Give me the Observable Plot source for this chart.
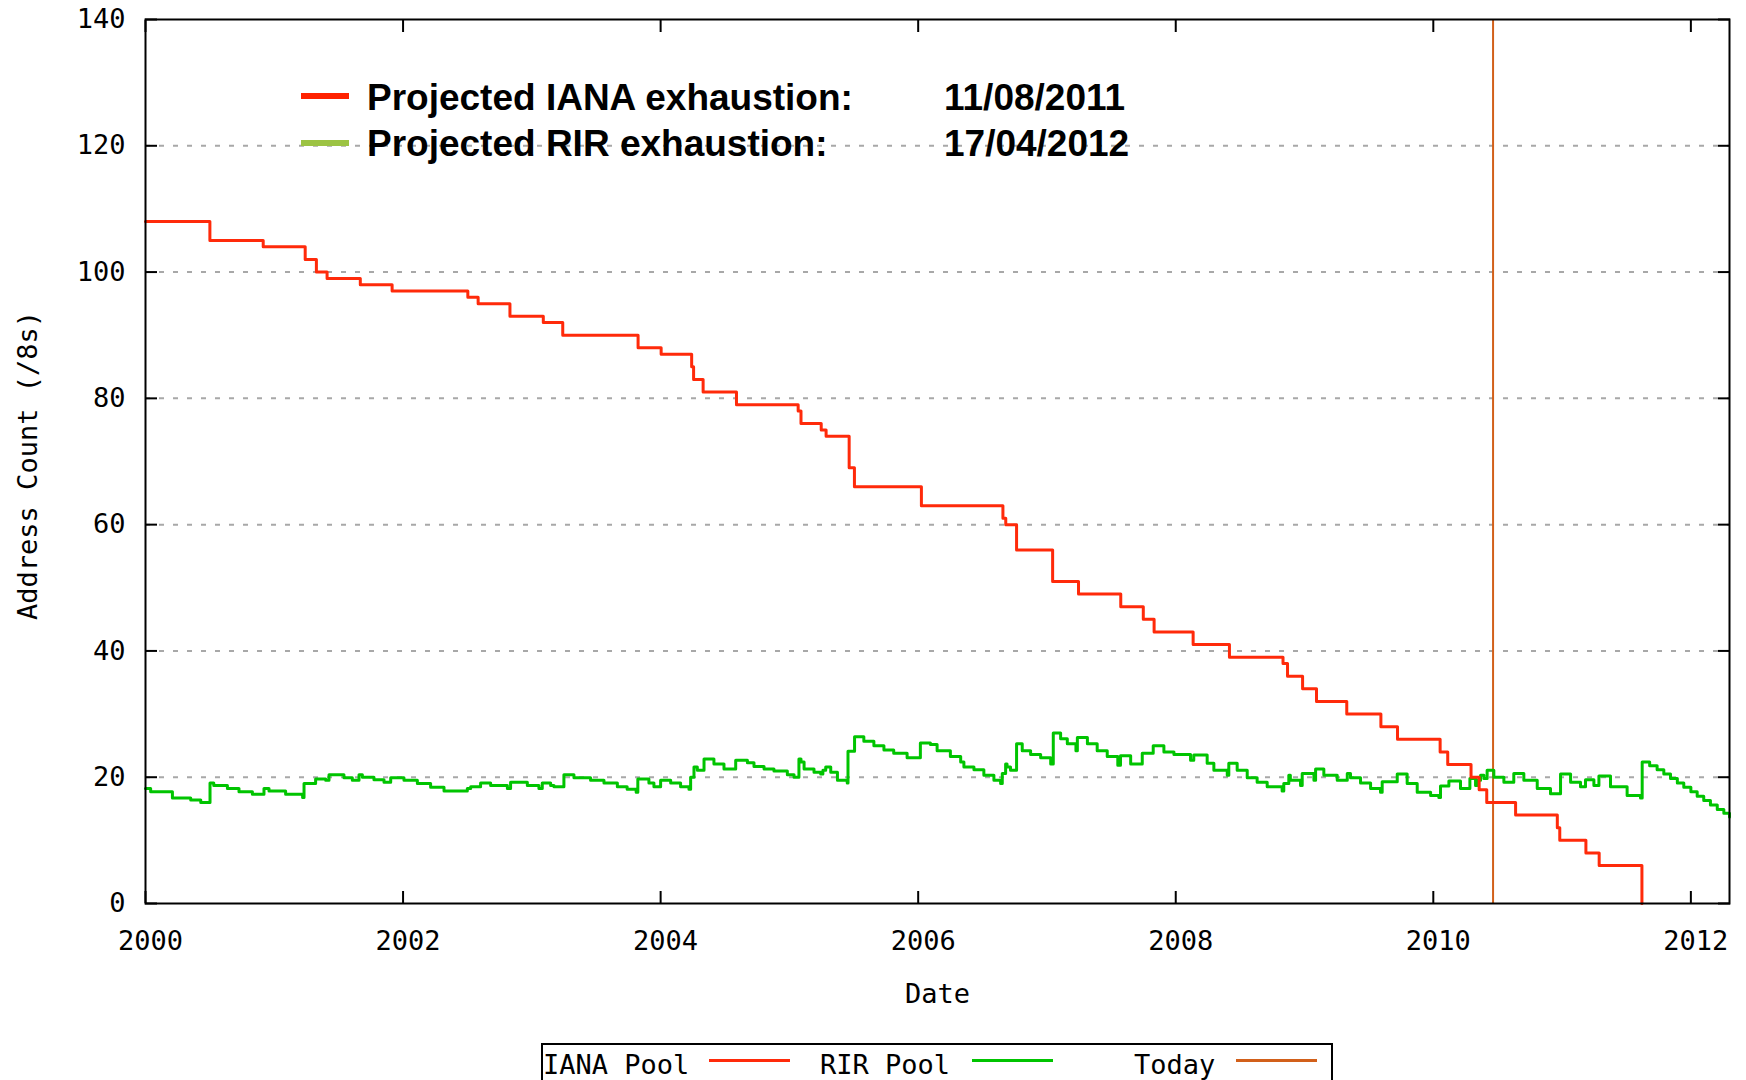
<!DOCTYPE html>
<html>
<head>
<meta charset="utf-8">
<script src="https://cdn.jsdelivr.net/npm/d3@7"></script>
<script src="https://cdn.jsdelivr.net/npm/@observablehq/plot@0.6"></script>
<style>
  html, body { margin: 0; padding: 0; background: #fff; }
  #wrap { position: relative; width: 1746px; height: 1080px; overflow: hidden; background: #fff; }
  #chart { position: absolute; left: 0; top: 0; }
  .proj { position: absolute; font-family: "Liberation Sans", Arial, sans-serif; font-weight: bold; font-size: 37px; line-height: 37px; color: #000; white-space: nowrap; }
  .sw { position: absolute; }
  .leg { position: absolute; font-family: "DejaVu Sans Mono", monospace; font-size: 27px; line-height: 27px; color: #000; white-space: nowrap; }
  #legbox { position: absolute; left: 541px; top: 1043px; width: 788px; height: 50px; border: 2px solid #000; box-sizing: content-box; }
</style>
</head>
<body>
<div id="wrap">
  <div id="chart"></div>
</div>
<script>
// ---- data ----
const xTicks = [2000, 2002, 2004, 2006, 2008, 2010, 2012];
const yTicks = [0, 20, 40, 60, 80, 100, 120, 140];
const xDomain = [2000, 2012.3];
const yDomain = [0, 140];
const todayYear = 2010.464;

// IANA pool (/8s), step changes (value applies from that date on)
const ianaYears = [2000.0, 2000.50, 2000.914, 2001.24, 2001.327, 2001.41, 2001.668, 2001.915, 2002.503, 2002.583,
  2002.83, 2003.089, 2003.24, 2003.825, 2004.004, 2004.241, 2004.256, 2004.33, 2004.589, 2005.068,
  2005.09, 2005.247, 2005.285, 2005.464, 2005.505, 2006.025, 2006.658, 2006.68, 2006.764, 2007.044,
  2007.245, 2007.573, 2007.748, 2007.832, 2008.135, 2008.417, 2008.833, 2008.868, 2008.985, 2009.093,
  2009.328, 2009.593, 2009.722, 2010.053, 2010.112, 2010.293, 2010.356, 2010.415, 2010.639, 2010.963,
  2010.982, 2011.185, 2011.288, 2011.62];
const ianaValues = [108, 105, 104, 102, 100, 99, 98, 97, 96, 95,
  93, 92, 90, 88, 87, 85, 83, 81, 79, 78,
  76, 75, 74, 69, 66, 63, 61, 60, 56, 51,
  49, 47, 45, 43, 41, 39, 38, 36, 34, 32,
  30, 28, 26, 24, 22, 20, 18, 16, 14, 12,
  10, 8, 6, 0];

// RIR pool (/8s)
const rirYears = [2000.000, 2000.040, 2000.209, 2000.351, 2000.429, 2000.501, 2000.530, 2000.636, 2000.726, 2000.830,
  2000.920, 2000.959, 2001.088, 2001.220, 2001.231, 2001.321, 2001.399, 2001.425, 2001.541, 2001.606,
  2001.658, 2001.684, 2001.774, 2001.852, 2001.904, 2002.007, 2002.111, 2002.214, 2002.318, 2002.499,
  2002.525, 2002.602, 2002.680, 2002.810, 2002.835, 2002.965, 2003.055, 2003.081, 2003.146, 2003.172,
  2003.249, 2003.327, 2003.456, 2003.560, 2003.664, 2003.740, 2003.810, 2003.823, 2003.909, 2003.948,
  2004.000, 2004.078, 2004.155, 2004.220, 2004.233, 2004.259, 2004.285, 2004.337, 2004.414, 2004.492,
  2004.583, 2004.674, 2004.725, 2004.803, 2004.880, 2004.984, 2005.036, 2005.074, 2005.090, 2005.114,
  2005.191, 2005.243, 2005.260, 2005.282, 2005.321, 2005.373, 2005.449, 2005.455, 2005.506, 2005.578,
  2005.656, 2005.734, 2005.810, 2005.914, 2006.017, 2006.095, 2006.147, 2006.250, 2006.330, 2006.355,
  2006.433, 2006.510, 2006.588, 2006.640, 2006.653, 2006.679, 2006.690, 2006.717, 2006.764, 2006.808,
  2006.873, 2006.951, 2007.029, 2007.049, 2007.106, 2007.158, 2007.225, 2007.236, 2007.314, 2007.390,
  2007.468, 2007.550, 2007.571, 2007.650, 2007.740, 2007.825, 2007.908, 2007.986, 2008.115, 2008.140,
  2008.244, 2008.296, 2008.400, 2008.412, 2008.477, 2008.555, 2008.632, 2008.710, 2008.826, 2008.839,
  2008.878, 2008.890, 2008.969, 2008.982, 2009.073, 2009.086, 2009.150, 2009.254, 2009.332, 2009.357,
  2009.435, 2009.513, 2009.590, 2009.603, 2009.720, 2009.797, 2009.875, 2009.979, 2010.043, 2010.056,
  2010.121, 2010.211, 2010.284, 2010.328, 2010.341, 2010.367, 2010.393, 2010.418, 2010.470, 2010.548,
  2010.625, 2010.703, 2010.807, 2010.910, 2010.988, 2011.066, 2011.143, 2011.182, 2011.247, 2011.286,
  2011.376, 2011.505, 2011.609, 2011.622, 2011.680, 2011.738, 2011.790, 2011.842, 2011.895, 2011.945,
  2012.000, 2012.049, 2012.100, 2012.152, 2012.205, 2012.256, 2012.300];
const rirValues = [18.2, 17.7, 16.7, 16.4, 16.0, 19.1, 18.7, 18.2, 17.7, 17.3,
  18.2, 17.8, 17.3, 16.8, 19.0, 19.7, 19.5, 20.4, 19.9, 19.5,
  20.4, 20.0, 19.6, 19.2, 19.9, 19.5, 19.0, 18.4, 17.8, 18.2,
  18.5, 19.1, 18.7, 18.2, 19.2, 18.7, 18.2, 19.1, 18.7, 18.5,
  20.4, 19.9, 19.5, 19.1, 18.5, 18.1, 17.6, 19.7, 19.1, 18.5,
  19.5, 19.1, 18.5, 18.1, 20.0, 21.6, 21.1, 22.9, 22.1, 21.3,
  22.7, 22.3, 21.7, 21.3, 21.0, 20.4, 20.0, 22.9, 22.4, 21.3,
  20.8, 20.5, 21.1, 21.6, 20.8, 19.5, 19.1, 24.1, 26.4, 25.7,
  25.0, 24.3, 23.8, 23.1, 25.4, 25.2, 24.2, 23.3, 22.4, 21.6,
  21.2, 20.3, 19.5, 19.0, 20.6, 22.1, 21.6, 21.1, 25.3, 24.2,
  23.6, 23.1, 22.1, 27.0, 26.1, 25.3, 24.2, 26.3, 25.3, 24.2,
  23.3, 21.9, 23.4, 22.1, 23.8, 25.0, 24.0, 23.6, 22.7, 23.5,
  22.2, 21.1, 20.3, 22.2, 21.1, 19.9, 19.2, 18.5, 17.8, 19.0,
  20.3, 19.5, 18.7, 20.6, 19.5, 21.3, 20.3, 19.5, 20.6, 19.9,
  19.1, 18.2, 17.6, 19.3, 20.5, 19.0, 17.6, 17.1, 16.8, 18.6,
  19.4, 18.2, 19.8, 18.7, 19.5, 20.3, 19.8, 21.1, 20.0, 19.2,
  20.6, 19.5, 18.2, 17.4, 20.5, 19.2, 18.5, 19.6, 18.7, 20.2,
  18.5, 17.1, 16.7, 22.4, 21.8, 21.2, 20.5, 19.8, 19.1, 18.4,
  17.7, 17.0, 16.3, 15.6, 14.9, 14.3, 13.7];

const projLabels = ["Projected IANA exhaustion:", "Projected RIR exhaustion:"];
const projDates = ["11/08/2011", "17/04/2012"];
const projColors = ["#ff2200", "#9cc343"];

const legendLabels = ["IANA Pool", "RIR Pool", "Today"];
const colIANA = "#ff2a0a";
const colRIR = "#00c400";
const colToday = "#d2601a";
const legendColors = [colIANA, colRIR, colToday];

// ---- build ----
const iana = ianaYears.map((x, i) => ({x, v: ianaValues[i]}));
const rir = rirYears.map((x, i) => ({x, v: rirValues[i]}));
const gridTicks = yTicks.filter(v => v > yDomain[0] && v < yDomain[1]);

const chart = Plot.plot({
  width: 1746,
  height: 1030,
  marginTop: 19,
  marginBottom: 127,
  marginLeft: 145,
  marginRight: 17,
  x: {domain: xDomain},
  y: {domain: yDomain},
  style: {fontFamily: "'DejaVu Sans Mono', monospace", fontSize: "27px", color: "#000", background: "#fff", overflow: "visible"},
  marks: [
    Plot.gridY(gridTicks, {stroke: "#a8a8a8", strokeOpacity: 1, strokeWidth: 2, strokeDasharray: "5,9"}),
    Plot.axisX(xTicks, {anchor: "bottom", tickSize: 0, tickPadding: 27, dx: 5, tickFormat: d => String(d), label: null}),
    Plot.axisX(xTicks, {anchor: "bottom", tickSize: 12, dy: -12, strokeWidth: 2, tickFormat: () => "", label: null}),
    Plot.axisX(xTicks, {anchor: "top", tickSize: 12, dy: 12, strokeWidth: 2, tickFormat: () => "", label: null}),
    Plot.axisY(yTicks, {anchor: "left", tickSize: 0, tickPadding: 20, tickFormat: d => String(d), label: null}),
    Plot.axisY(yTicks, {anchor: "left", tickSize: 12, dx: 12, strokeWidth: 2, tickFormat: () => "", label: null}),
    Plot.axisY(yTicks, {anchor: "right", tickSize: 12, dx: -12, strokeWidth: 2, tickFormat: () => "", label: null}),
    Plot.ruleX([todayYear], {stroke: colToday, strokeWidth: 2}),
    Plot.line(rir, {x: "x", y: "v", curve: "step-after", stroke: colRIR, strokeWidth: 3}),
    Plot.line(iana, {x: "x", y: "v", curve: "step-after", stroke: colIANA, strokeWidth: 3}),
    Plot.frame({stroke: "#000", strokeWidth: 2}),
    Plot.text(["Date"], {frameAnchor: "bottom", dy: 91, lineAnchor: "middle", textAnchor: "middle", text: d => d}),
    Plot.text(["Address Count (/8s)"], {frameAnchor: "left", dx: -117, dy: 4, rotate: -90, lineAnchor: "middle", textAnchor: "middle", text: d => d})
  ]
});
const wrap = document.getElementById("wrap");
document.getElementById("chart").appendChild(chart);

// projected exhaustion annotations
const projTops = [79, 125];
const swTops = [93, 139.5];
projLabels.forEach((t, i) => {
  const sw = document.createElement("div");
  sw.className = "sw";
  Object.assign(sw.style, {left: "301px", top: swTops[i] + "px", width: "48px", height: "6px", background: projColors[i]});
  wrap.appendChild(sw);
  const a = document.createElement("div");
  a.className = "proj"; a.textContent = t;
  Object.assign(a.style, {left: "367px", top: projTops[i] + "px"});
  wrap.appendChild(a);
  const b = document.createElement("div");
  b.className = "proj"; b.textContent = projDates[i];
  Object.assign(b.style, {left: "944px", top: projTops[i] + "px"});
  wrap.appendChild(b);
});

// bottom legend box
const box = document.createElement("div");
box.id = "legbox";
wrap.appendChild(box);
const legTextLeft = [543, 820, 1134];
const legSwLeft = [709, 972, 1236];
legendLabels.forEach((t, i) => {
  const l = document.createElement("div");
  l.className = "leg"; l.textContent = t;
  Object.assign(l.style, {left: legTextLeft[i] + "px", top: "1051px"});
  wrap.appendChild(l);
  const s = document.createElement("div");
  s.className = "sw";
  Object.assign(s.style, {left: legSwLeft[i] + "px", top: "1059px", width: "81px", height: "2.5px", background: legendColors[i]});
  wrap.appendChild(s);
});
</script>
</body>
</html>
